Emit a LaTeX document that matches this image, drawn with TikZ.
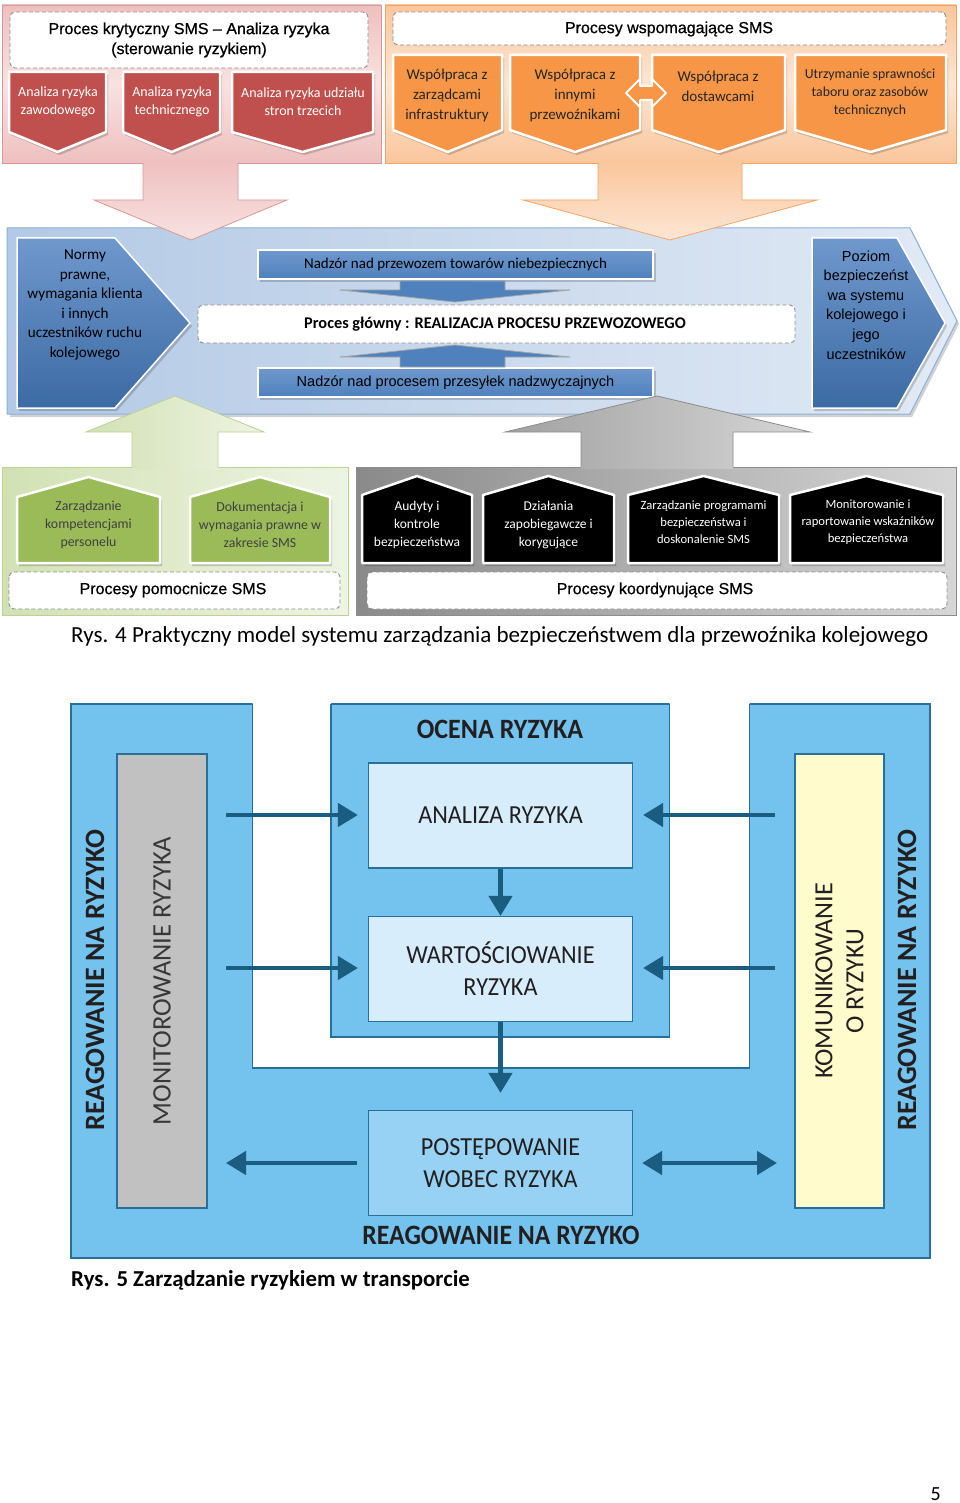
\documentclass[tikz,border=0pt]{standalone}
\usepackage{fontspec}
\setmainfont{Carlito}
\newfontfamily\arialf{Liberation Sans}
\newfontfamily\arialh{Liberation Sans}[FakeBold=0.7]
\usetikzlibrary{arrows.meta}
\definecolor{pinkA}{HTML}{EEC0BF}
\definecolor{pinkB}{HTML}{F8E2E1}
\definecolor{pinkE}{HTML}{D49A98}
\definecolor{redF}{HTML}{C0504D}
\definecolor{orA}{HTML}{FAC69C}
\definecolor{orB}{HTML}{FDE6D4}
\definecolor{orE}{HTML}{F4A467}
\definecolor{orF}{HTML}{F79646}
\definecolor{blA}{HTML}{B3C9E5}
\definecolor{blB}{HTML}{E1EAF5}
\definecolor{blE}{HTML}{8DB0D8}
\definecolor{blF}{HTML}{4F81BD}
\definecolor{blD}{HTML}{3C6AA3}
\definecolor{blL}{HTML}{6F98CD}
\definecolor{grA}{HTML}{D2E1B4}
\definecolor{grB}{HTML}{EEF4E3}
\definecolor{grE}{HTML}{BCD196}
\definecolor{grF}{HTML}{9BBB59}
\definecolor{gyA}{HTML}{8A8A8A}
\definecolor{gyB}{HTML}{D6D6D6}
\definecolor{rsk}{HTML}{74C3EE}
\definecolor{rskE}{HTML}{2A6F97}
\definecolor{rskL}{HTML}{D7EDFB}
\definecolor{rskM}{HTML}{97D1F3}
\definecolor{arr}{HTML}{1A5D80}
\definecolor{mon}{HTML}{C1C1C1}
\definecolor{kom}{HTML}{FFFBCC}
\definecolor{txt}{HTML}{231F20}
\newcommand{\cx}[1]{\scalebox{0.93}[1]{#1}}
\tikzset{
  dbox/.style={draw=black!45, dash pattern=on 4pt off 2.5pt, fill=white, rounded corners=5pt, line width=0.9pt},
  redbox/.style={fill=redF, draw=white, line width=2.5pt, line join=round},
  orbox/.style={fill=orF, draw=white, line width=2.5pt, line join=round},
  grbox/.style={fill=grF, draw=white, line width=2.5pt, line join=round},
  bkbox/.style={fill=black, draw=white, line width=2.5pt, line join=round},
  shd/.style={fill=black, opacity=0.18},
  tx/.style={align=center, inner sep=0pt},
  c14/.style={tx, font=\fontsize{14}{18}\selectfont},
  c15/.style={tx, font=\fontsize{15}{20}\selectfont},
  c13/.style={tx, font=\fontsize{12.6}{17}\selectfont},
  a16/.style={tx, font=\arialh\fontsize{16}{20}\selectfont},
  bar/.style={draw=white, line width=2pt, top color=blL, bottom color=blF, minimum width=395pt, minimum height=29pt, inner sep=0pt},
  rbox/.style={draw=rskE, line width=1.2pt, minimum width=264pt, minimum height=105pt, inner sep=0pt, align=center, text=txt, font=\fontsize{26}{32}\selectfont},
  rarrow/.style={draw=arr, line width=4.5pt, -{Triangle[length=20pt,width=23pt]}},
  darrow/.style={draw=arr, line width=4.5pt, {Triangle[length=20pt,width=23pt]}-{Triangle[length=20pt,width=23pt]}},
  vbold/.style={rotate=90, inner sep=0pt, text=txt, font=\bfseries\fontsize{28}{30}\selectfont},
}
\begin{document}
\begin{tikzpicture}[x=1pt,y=-1pt]
\useasboundingbox (0,0) rectangle (960,1503);
\fill[white] (0,0) rectangle (960,1503);

% ================= FIG 4 =================
% ---- pink panel
\path[draw=pinkE, line width=0.8pt, top color=pinkA, bottom color=pinkA, middle color=pinkB] (2,5) rectangle (381,163);
\draw[dbox] (10,12) rectangle (368,68);
\node[a16] (pk) at (189,40) {Proces krytyczny SMS – Analiza ryzyka\\(sterowanie ryzykiem)};
\foreach \a/\b in {9/106,123/220,232/373}{
  \pgfmathsetmacro\c{(\a+\b)/2}
  \fill[shd,shift={(2,3)}] (\a,72) -- (\b,72) -- (\b,132) -- (\c,152) -- (\a,132) -- cycle;
  \path[redbox] (\a,72) -- (\b,72) -- (\b,132) -- (\c,152) -- (\a,132) -- cycle;
}
\node[c14, text=white] (r1) at (58,102) {Analiza ryzyka\\zawodowego};
\node[c14, text=white] (r2) at (172,102) {Analiza ryzyka\\technicznego};
\node[c14, text=white] (r3) at (303,102) {Analiza ryzyka udziału\\stron trzecich};

% ---- orange panel
\path[draw=orE, line width=0.8pt, top color=orA, bottom color=orA, middle color=orB] (385,5) rectangle (956,163);
\draw[dbox] (393,12) rectangle (946,45);
\node[a16] (po) at (669,29) {Procesy wspomagające SMS};
\foreach \a/\b in {393/502,510/640,652/785,795/946}{
  \pgfmathsetmacro\c{(\a+\b)/2}
  \fill[shd,shift={(2,3)}] (\a,55) -- (\b,55) -- (\b,130) -- (\c,152) -- (\a,130) -- cycle;
  \path[orbox] (\a,55) -- (\b,55) -- (\b,130) -- (\c,152) -- (\a,130) -- cycle;
}
\path[fill=orF, draw=white, line width=2pt, line join=round] (626,93) -- (640,79) -- (640,86) -- (652,86) -- (652,79) -- (666,93) -- (652,107) -- (652,100) -- (640,100) -- (640,107) -- cycle;
\node[c15, text=black!85] (o1) at (447,96) {Współpraca z\\zarządcami\\infrastruktury};
\node[c15, text=black!85] (o2) at (575,96) {Współpraca z\\innymi\\przewoźnikami};
\node[c15, text=black!85] (o3) at (718,86) {Współpraca z\\dostawcami};
\node[tx, text=black!85, font=\fontsize{13.8}{18}\selectfont] (o4) at (870,93) {Utrzymanie sprawności\\taboru oraz zasobów\\technicznych};

% ---- blue main panel
\fill[black!18] (10,231) -- (912,231) -- (959,324) -- (912,417) -- (10,417) -- cycle;
\path[draw=blE, line width=1pt, left color=blA, right color=blB] (7,228) -- (910,228) -- (957,321) -- (910,414) -- (7,414) -- cycle;
\fill[shd] (19,241) -- (117,241) -- (192,326) -- (117,411) -- (19,411) -- cycle;
\path[draw=white, line width=1.5pt, top color=blL, bottom color=blD] (17,238) -- (115,238) -- (190,323) -- (115,408) -- (17,408) -- cycle;
\node[tx, font=\fontsize{15.2}{19.6}\selectfont] (norm) at (85,305) {Normy\\prawne,\\wymagania klienta\\i innych\\uczestników ruchu\\kolejowego};
\fill[shd] (814,241) -- (899,241) -- (947,326) -- (899,411) -- (814,411) -- cycle;
\path[draw=white, line width=1.5pt, top color=blL, bottom color=blD] (812,238) -- (897,238) -- (945,323) -- (897,408) -- (812,408) -- cycle;
\node[tx, font=\arialf\fontsize{14.5}{19.6}\selectfont] (poz) at (866,305) {Poziom\\bezpieczeńst\\wa systemu\\kolejowego i\\jego\\uczestników};
\fill[shd] (260,253) rectangle (656,282);
\node[bar, font=\fontsize{15}{18}\selectfont] (b1) at (455.5,264.5) {Nadzór nad przewozem towarów niebezpiecznych};
\fill[shd] (260,371) rectangle (656,400);
\node[bar, font=\arialf\fontsize{14.5}{18}\selectfont] (b2) at (455.5,382.5) {Nadzór nad procesem przesyłek nadzwyczajnych};
\path[fill=blF, draw=black!35, line width=0.8pt] (400,281) -- (505,281) -- (505,290) -- (570,290) -- (455,302) -- (340,290) -- (400,290) -- cycle;
\path[fill=blF, draw=black!35, line width=0.8pt] (400,367) -- (505,367) -- (505,357) -- (570,357) -- (455,345) -- (340,357) -- (400,357) -- cycle;
\draw[dbox] (198,305) rectangle (795,343);
\node[tx, font=\bfseries\fontsize{16.3}{18}\selectfont] (pg) at (495,324) {Proces główny : REALIZACJA PROCESU PRZEWOZOWEGO};

% ---- big down arrows
\path[top color=pinkA, bottom color=pinkB] (143,161) -- (238,161) -- (238,200) -- (287,200) -- (191,240) -- (94,200) -- (143,200) -- cycle;
\draw[pinkE, line width=0.8pt] (143,163) -- (143,200) -- (94,200) -- (191,240) -- (287,200) -- (238,200) -- (238,163);
\path[top color=orA, bottom color=orB] (598,161) -- (742,161) -- (742,200) -- (817,200) -- (670,240) -- (523,200) -- (598,200) -- cycle;
\draw[orE, line width=0.8pt] (598,163) -- (598,200) -- (523,200) -- (670,240) -- (817,200) -- (742,200) -- (742,163);

% ---- green panel
\path[draw=grE, line width=0.8pt, left color=grA, right color=grB] (2,467) rectangle (348,615);
\path[left color=grA, right color=grB] (132,469) -- (132,432) -- (86,432) -- (175,396) -- (264,432) -- (218,432) -- (218,469) -- cycle;
\draw[grE, line width=0.8pt] (132,467) -- (132,432) -- (86,432) -- (175,396) -- (264,432) -- (218,432) -- (218,467);
\foreach \a/\b in {17/160,190/330}{
  \pgfmathsetmacro\c{(\a+\b)/2}
  \fill[shd,shift={(2,3)}] (\a,563) -- (\a,497) -- (\c,477) -- (\b,497) -- (\b,563) -- cycle;
  \path[grbox] (\a,563) -- (\a,497) -- (\c,477) -- (\b,497) -- (\b,563) -- cycle;
}
\node[tx, text=black!75, font=\fontsize{13.8}{18}\selectfont] (g1) at (88.5,525) {Zarządzanie\\kompetencjami\\personelu};
\node[tx, text=black!75, font=\fontsize{13.8}{18}\selectfont] (g2) at (260,525) {Dokumentacja i\\wymagania prawne w\\zakresie SMS};
\draw[dbox] (9,572) rectangle (340,609);
\node[a16] (pp) at (173,590) {Procesy pomocnicze SMS};

% ---- grey panel
\path[draw=black!45, line width=0.8pt, left color=gyA, right color=gyB] (356,467) rectangle (956,615);
\path[left color=gyA!80, right color=gyB] (581,469) -- (581,432) -- (505,432) -- (657,396) -- (810,432) -- (733,432) -- (733,469) -- cycle;
\draw[black!45, line width=0.8pt] (581,467) -- (581,432) -- (505,432) -- (657,396) -- (810,432) -- (733,432) -- (733,467);
\foreach \a/\b in {362/472,483/614,628/779,790/943}{
  \pgfmathsetmacro\c{(\a+\b)/2}
  \fill[shd,shift={(2,3)}] (\a,563) -- (\a,495) -- (\c,476) -- (\b,495) -- (\b,563) -- cycle;
  \path[bkbox] (\a,563) -- (\a,495) -- (\c,476) -- (\b,495) -- (\b,563) -- cycle;
}
\node[tx, text=white, font=\fontsize{13.5}{18}\selectfont] (k1) at (417,525) {Audyty i\\kontrole\\bezpieczeństwa};
\node[tx, text=white, font=\fontsize{13.5}{18}\selectfont] (k2) at (548.5,525) {Działania\\zapobiegawcze i\\korygujące};
\node[c13, text=white] (k3) at (703.5,522) {Zarządzanie programami\\bezpieczeństwa i\\doskonalenie SMS};
\node[c13, text=white] (k4) at (868,522) {Monitorowanie i\\raportowanie wskaźników\\bezpieczeństwa};
\draw[dbox] (367,572) rectangle (947,609);
\node[a16] (pkd) at (655,590) {Procesy koordynujące SMS};

\node[anchor=base west, inner sep=0pt, font=\fontsize{23}{26}\selectfont] (cap4) at (71,642) {Rys. 4 Praktyczny model systemu zarządzania bezpieczeństwem dla przewoźnika kolejowego};

% ================= FIG 5 =================
\path[fill=rsk, draw=rskE, line width=1.2pt] (71,704) rectangle (930,1258);
\fill[white] (252.5,702) -- (252.5,1068) -- (749.5,1068) -- (749.5,702) -- (669.5,702) -- (669.5,1037) -- (331,1037) -- (331,702) -- cycle;
\draw[rskE, line width=1.2pt] (252.5,704) -- (252.5,1068) -- (749.5,1068) -- (749.5,704);
\draw[rskE, line width=1.2pt] (331,704) -- (331,1037) -- (669.5,1037) -- (669.5,704);

\node[rotate=90, draw=rskE, line width=1.2pt, fill=mon, minimum width=454pt, minimum height=90pt, inner sep=0pt, text=black!78, font=\fontsize{26.7}{30}\selectfont] (mon) at (162,981) {MONITOROWANIE RYZYKA};
\node[rotate=90, draw=rskE, line width=1.2pt, fill=kom, minimum width=454pt, minimum height=89pt, inner sep=0pt, align=center, text=txt, font=\fontsize{26.2}{31}\selectfont] (kom) at (839.5,981) {KOMUNIKOWANIE\\O RYZYKU};
\node[vbold] (reagL) at (95,980) {REAGOWANIE NA RYZYKO};
\node[vbold] (reagR) at (907,980) {REAGOWANIE NA RYZYKO};

\node[inner sep=0pt, text=txt, font=\bfseries\fontsize{28}{30}\selectfont] (ocena) at (500,729) {\cx{OCENA RYZYKA}};
\node[rbox, fill=rskL] (ana) at (500.5,815.5) {\cx{ANALIZA RYZYKA}};
\node[rbox, fill=rskL] (wart) at (500.5,969) {\cx{WARTOŚCIOWANIE}\\\cx{RYZYKA}};
\node[rbox, fill=rskM] (post) at (500.5,1163) {\cx{POSTĘPOWANIE}\\\cx{WOBEC RYZYKA}};
\node[inner sep=0pt, text=txt, font=\bfseries\fontsize{28}{30}\selectfont] (reagB) at (501,1235) {\scalebox{0.92}[1]{REAGOWANIE NA RYZYKO}};

\coordinate (la1) at (226,815);
\coordinate (la2) at (226,968);
\coordinate (ra1) at (775,815);
\coordinate (ra2) at (775,968);
\coordinate (la3) at (226,1163);
\coordinate (ra3) at (777,1163);
\draw[rarrow, shorten >=10pt] (la1) -- (la1 -| ana.west);
\draw[rarrow, shorten >=10pt] (la2) -- (la2 -| wart.west);
\draw[rarrow, shorten >=10pt] (ra1) -- (ra1 -| ana.east);
\draw[rarrow, shorten >=10pt] (ra2) -- (ra2 -| wart.east);
\draw[rarrow] (ana.south) -- (wart.north);
\draw[rarrow, shorten >=17pt] (wart.south) -- (post.north);
\draw[rarrow, shorten <=11pt] (post.west) -- (la3);
\draw[darrow, shorten <=9pt] (post.east) -- (ra3);

\node[anchor=base west, inner sep=0pt, font=\bfseries\fontsize{22.8}{26}\selectfont] (cap5) at (71,1286) {Rys. 5 Zarządzanie ryzykiem w transporcie};
\node[anchor=base east, inner sep=0pt, font=\fontsize{20}{22}\selectfont] (pnum) at (941,1500) {5};
\end{tikzpicture}
\end{document}
